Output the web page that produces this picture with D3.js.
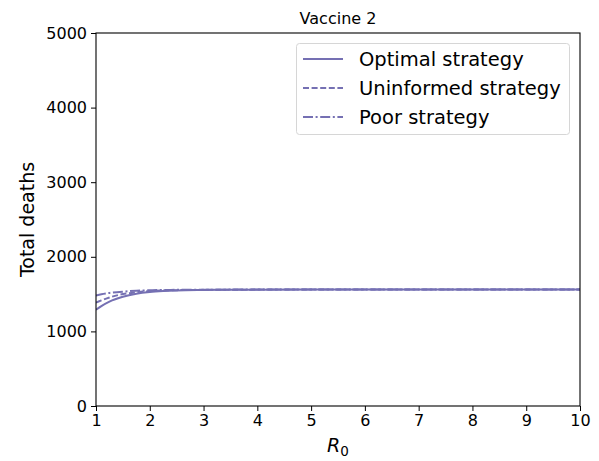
<!DOCTYPE html>
<html><head><meta charset="utf-8">
<script src="https://cdn.jsdelivr.net/npm/d3@7"></script>
<style>body{margin:0;background:#fff}svg{display:block}text{font-family:"DejaVu Sans",sans-serif;fill:#000}</style>
</head><body>
<script>
const r0 = [1, 1.1, 1.25, 1.5, 1.75, 2, 2.25, 2.5, 3, 3.5, 4, 5, 6, 7, 8, 9, 10];
const optimal =    [1290, 1340, 1400, 1465, 1505, 1528, 1541, 1549, 1555, 1558, 1559, 1560, 1560, 1560, 1560, 1560, 1560];
const uninformed = [1385, 1415, 1455, 1500, 1525, 1540, 1549, 1553, 1557, 1559, 1560, 1560, 1560, 1560, 1560, 1560, 1560];
const poor =       [1480, 1498, 1515, 1533, 1545, 1551, 1555, 1557, 1559, 1560, 1560, 1560, 1560, 1560, 1560, 1560, 1560];
const xTicks = [1,2,3,4,5,6,7,8,9,10];
const yTicks = [0,1000,2000,3000,4000,5000];
const seriesNames = ["Optimal strategy","Uninformed strategy","Poor strategy"];
const dashes = [null, "6,2.6", "10,2.6,2,2.6"];
const color = "#7570b3";

const W=599,H=461, L=96, R=580, T=33, B=406;
const svg = d3.select("body").append("svg").attr("width",W).attr("height",H);
const x = d3.scaleLinear().domain([1,10]).range([L,R]);
const y = d3.scaleLinear().domain([0,5000]).range([B,T]);

const clip = svg.append("clipPath").attr("id","c").append("rect").attr("x",L).attr("y",T).attr("width",R-L).attr("height",B-T);
const line = d3.line().x((d,i)=>x(r0[i])).y(d=>y(d)).curve(d3.curveMonotoneX);
[optimal, uninformed, poor].forEach((s,i)=>{
  svg.append("path").attr("d",line(s)).attr("fill","none").attr("stroke",color)
    .attr("stroke-width",2).attr("stroke-dasharray",dashes[i]).attr("clip-path","url(#c)");
});

const xa = svg.append("g").attr("transform",`translate(0,${B})`).call(d3.axisBottom(x).tickValues(xTicks).tickSize(5).tickPadding(4).tickFormat(d3.format("d")));
const ya = svg.append("g").attr("transform",`translate(${L},0)`).call(d3.axisLeft(y).tickValues(yTicks).tickSize(5).tickPadding(4).tickFormat(d3.format("d")));
[xa,ya].forEach(a=>{a.select(".domain").remove();a.selectAll("text").attr("font-size",16).attr("font-family","DejaVu Sans").attr("fill","#000");a.selectAll("line").attr("stroke","#000").attr("stroke-width",1);});
svg.append("rect").attr("x",L).attr("y",T).attr("width",R-L).attr("height",B-T).attr("fill","none").attr("stroke","#000").attr("stroke-width",1.1);

svg.append("text").attr("x",(L+R)/2).attr("y",24).attr("text-anchor","middle").attr("font-size",16).text("Vaccine 2");
svg.append("text").attr("transform",`translate(34,${(T+B)/2}) rotate(-90)`).attr("text-anchor","middle").attr("font-size",19).text("Total deaths");
const xl = svg.append("text").attr("x",(L+R)/2).attr("y",452).attr("text-anchor","middle").attr("font-size",19);
xl.append("tspan").attr("font-style","italic").text("R");
xl.append("tspan").attr("font-size",13.5).attr("dy",4).text("0");

const lg = svg.append("g");
lg.append("rect").attr("x",296.5).attr("y",43.5).attr("width",273).attr("height",91).attr("rx",3).attr("fill","#fff").attr("fill-opacity",0.8).attr("stroke","#d6d6d6");
seriesNames.forEach((n,i)=>{
  const yy = 59 + i*29;
  lg.append("line").attr("x1",303).attr("x2",343).attr("y1",yy).attr("y2",yy).attr("stroke",color).attr("stroke-width",2).attr("stroke-dasharray",dashes[i]);
  lg.append("text").attr("x",359).attr("y",yy+7).attr("font-size",19.5).text(n);
});
</script>
</body></html>
